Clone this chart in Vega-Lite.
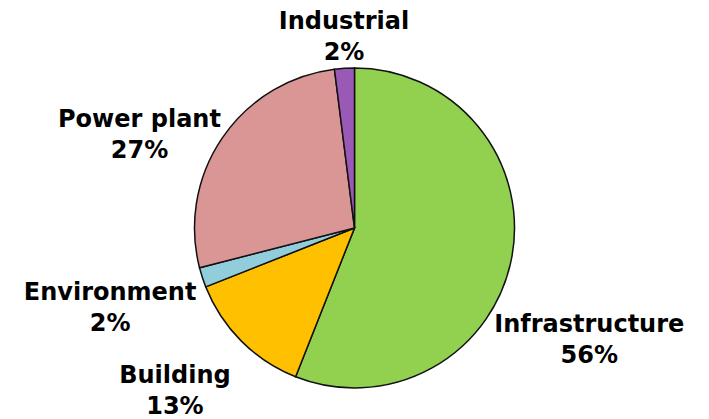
{
  "$schema": "https://vega.github.io/schema/vega-lite/v6.json",
  "width": 709,
  "height": 456,
  "autosize": {"type": "none"},
  "padding": 0,
  "background": "white",
  "view": {"stroke": null},
  "data": {
    "values": [
      {"category": "Infrastructure", "value": 56},
      {"category": "Building", "value": 13},
      {"category": "Environment", "value": 2},
      {"category": "Power plant", "value": 27},
      {"category": "Industrial", "value": 2}
    ]
  },
  "transform": [
    {"window": [{"op": "row_number", "as": "idx"}]},
    {"stack": "value", "groupby": [], "sort": [{"field": "idx", "order": "ascending"}], "as": ["v0", "v1"]},
    {"calculate": "(datum.v0 + datum.v1) / 2", "as": "mid"},
    {"calculate": "datum.category + '\\n' + datum.value + '%'", "as": "label"}
  ],
  "encoding": {
    "theta": {"field": "v0", "type": "quantitative", "scale": {"domain": [0, 100], "range": [0, 6.283185307]}}
  },
  "layer": [
    {
      "mark": {"type": "arc", "outerRadius": 160, "stroke": "#111111", "strokeWidth": 1.5},
      "encoding": {
        "theta": {"field": "v0", "type": "quantitative"},
        "theta2": {"field": "v1"},
        "color": {
          "field": "category",
          "type": "nominal",
          "scale": {
            "domain": ["Infrastructure", "Building", "Environment", "Power plant", "Industrial"],
            "range": ["#92D050", "#FFC000", "#92CDDC", "#DA9694", "#9B59B6"]
          },
          "legend": null
        }
      }
    },
    {
      "transform": [{"filter": "datum.category === 'Infrastructure'"}],
      "mark": {"type": "text", "radius": 239, "dy": 59, "font": "DejaVu Sans", "fontWeight": "bold", "fontSize": 24, "lineHeight": 31, "lineBreak": "\n", "align": "center", "baseline": "alphabetic", "color": "black"},
      "encoding": {"theta": {"field": "mid", "type": "quantitative"}, "text": {"field": "label"}}
    },
    {
      "transform": [{"filter": "datum.category === 'Building'"}],
      "mark": {"type": "text", "radius": 254, "dy": -25, "font": "DejaVu Sans", "fontWeight": "bold", "fontSize": 24, "lineHeight": 31, "lineBreak": "\n", "align": "center", "baseline": "alphabetic", "color": "black"},
      "encoding": {"theta": {"field": "mid", "type": "quantitative"}, "text": {"field": "label"}}
    },
    {
      "transform": [{"filter": "datum.category === 'Environment'"}],
      "mark": {"type": "text", "radius": 257, "dy": -7, "font": "DejaVu Sans", "fontWeight": "bold", "fontSize": 24, "lineHeight": 31, "lineBreak": "\n", "align": "center", "baseline": "alphabetic", "color": "black"},
      "encoding": {"theta": {"field": "mid", "type": "quantitative"}, "text": {"field": "label"}}
    },
    {
      "transform": [{"filter": "datum.category === 'Power plant'"}],
      "mark": {"type": "text", "radius": 260, "dy": 45, "font": "DejaVu Sans", "fontWeight": "bold", "fontSize": 24, "lineHeight": 31, "lineBreak": "\n", "align": "center", "baseline": "alphabetic", "color": "black"},
      "encoding": {"theta": {"field": "mid", "type": "quantitative"}, "text": {"field": "label"}}
    },
    {
      "transform": [{"filter": "datum.category === 'Industrial'"}],
      "mark": {"type": "text", "radius": 199, "dx": 2, "font": "DejaVu Sans", "fontWeight": "bold", "fontSize": 24, "lineHeight": 31, "lineBreak": "\n", "align": "center", "baseline": "alphabetic", "color": "black"},
      "encoding": {"theta": {"field": "mid", "type": "quantitative"}, "text": {"field": "label"}}
    }
  ]
}
